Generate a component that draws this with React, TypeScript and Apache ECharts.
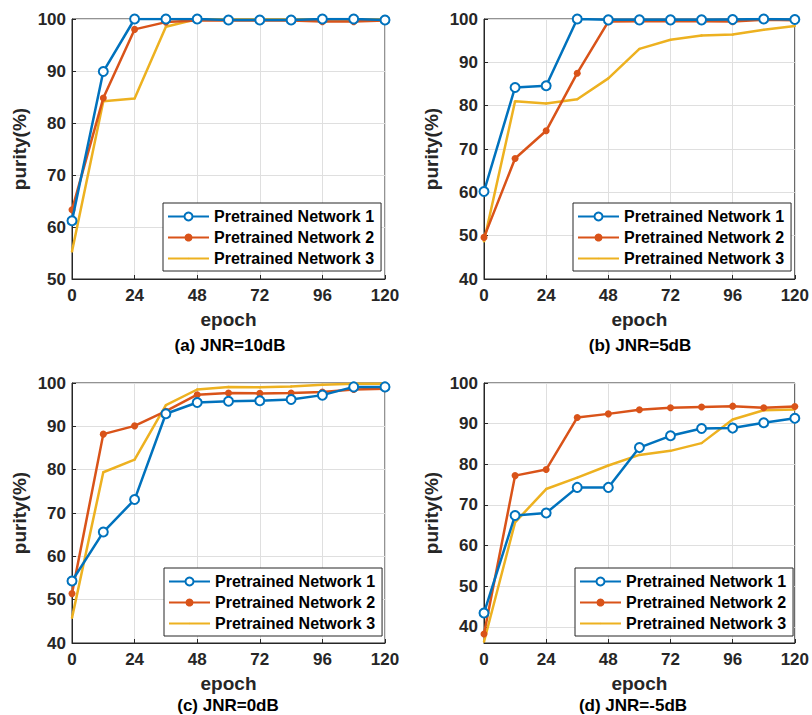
import React, { useEffect, useRef } from "react";
import * as echarts from "echarts";

const epochs = [0, 12, 24, 36, 48, 60, 72, 84, 96, 108, 120];
const seriesNames = ["Pretrained Network 1", "Pretrained Network 2", "Pretrained Network 3"];
const captions = ["(a) JNR=10dB", "(b) JNR=5dB", "(c) JNR=0dB", "(d) JNR=-5dB"];

// (a) JNR=10dB
const a1 = [61.2, 89.9, 100, 100, 100, 99.8, 99.8, 99.8, 100, 100, 99.8];
const a2 = [63.3, 84.8, 98.0, 99.4, 99.7, 99.7, 99.7, 99.7, 99.5, 99.5, 99.7];
const a3 = [55.3, 84.2, 84.7, 98.5, 100, 99.9, 99.9, 99.9, 99.9, 99.9, 99.9];
// (b) JNR=5dB
const b1 = [60.2, 84.2, 84.6, 100, 99.8, 99.8, 99.8, 99.8, 99.9, 100, 99.9];
const b2 = [49.6, 67.8, 74.2, 87.5, 99.4, 99.5, 99.5, 99.5, 99.4, 99.8, 99.7];
const b3 = [48.7, 81.0, 80.5, 81.5, 86.3, 93.1, 95.2, 96.2, 96.4, 97.5, 98.4];
// (c) JNR=0dB
const c1 = [54.3, 65.6, 73.1, 92.9, 95.5, 95.8, 95.9, 96.2, 97.2, 99.1, 99.1];
const c2 = [51.4, 88.2, 90.1, 93.5, 97.3, 97.7, 97.6, 97.7, 97.9, 98.5, 98.7];
const c3 = [45.8, 79.4, 82.3, 94.9, 98.5, 99.1, 99.0, 99.2, 99.6, 99.8, 99.8];
// (d) JNR=-5dB
const d1 = [43.4, 67.4, 68.0, 74.3, 74.3, 84.1, 87.0, 88.8, 88.9, 90.2, 91.3];
const d2 = [38.2, 77.2, 78.7, 91.5, 92.4, 93.4, 93.9, 94.1, 94.3, 93.9, 94.2];
const d3 = [36.3, 65.7, 73.9, 76.7, 79.7, 82.3, 83.3, 85.2, 91.0, 93.3, 93.5];

const yMins = [50, 40, 40, 36];
const yTicksA = [50, 60, 70, 80, 90, 100];
const yTicksB = [40, 50, 60, 70, 80, 90, 100];
const yTicksD = [40, 50, 60, 70, 80, 90, 100];

const panels = [
  [a1, a2, a3],
  [b1, b2, b3],
  [c1, c2, c3],
  [d1, d2, d3],
];
const yTickSets = [yTicksA, yTicksB, yTicksB, yTicksD];

const colors = ["#0072BD", "#D95319", "#EDB120"];
const FONT = "Liberation Sans, Arial, sans-serif";
const TXT = "#262626";
// tiny dot inside a larger invisible bounding box (MATLAB '.' marker look)
const DOT = "path://M-6,-6 M6,6 M-1,0 A1,1 0 1 1 1,0 A1,1 0 1 1 -1,0 Z";

export default function App() {
  const ref = useRef<HTMLDivElement>(null);
  useEffect(() => {
    if (!ref.current) return;
    const chart = echarts.init(ref.current, null, { renderer: "svg" });
    const grids = [
      { left: 72, top: 19, width: 313, height: 260 },
      { left: 484, top: 19, width: 313, height: 260 },
      { left: 72, top: 383, width: 313, height: 260 },
      { left: 484, top: 383, width: 313, height: 260 },
    ];
    const legendPos = [
      { left: 163, top: 203 },
      { left: 573, top: 203 },
      { left: 164, top: 568 },
      { left: 575, top: 568 },
    ];
    const captionPos = [
      { x: 230, y: 345 },
      { x: 640, y: 345 },
      { x: 228, y: 705 },
      { x: 633, y: 705 },
    ];

    const xAxis = grids.map((_, i) => ({
      type: "value",
      gridIndex: i,
      min: 0,
      max: 120,
      interval: 24,
      name: "epoch",
      nameLocation: "middle",
      nameGap: 31,
      nameTextStyle: { fontFamily: FONT, fontWeight: "bold", fontSize: 19, color: TXT },
      axisLine: { show: true, lineStyle: { color: TXT, width: 1 } },
      axisTick: { show: true, inside: true, length: 4, lineStyle: { color: TXT } },
      axisLabel: { fontFamily: FONT, fontWeight: "bold", fontSize: 17, color: TXT, margin: 8 },
      splitLine: { show: true, lineStyle: { color: "#dfdfdf", width: 1 } },
    }));

    const yAxis = grids.map((_, i) => ({
      type: "value",
      gridIndex: i,
      min: yMins[i],
      max: 100,
      name: "purity(%)",
      nameLocation: "middle",
      nameGap: 43,
      nameTextStyle: { fontFamily: FONT, fontWeight: "bold", fontSize: 19, color: TXT },
      axisLine: { show: true, lineStyle: { color: TXT, width: 1 } },
      axisTick: { show: true, inside: true, length: 4, lineStyle: { color: TXT }, customValues: yTickSets[i] },
      axisLabel: {
        fontFamily: FONT,
        fontWeight: "bold",
        fontSize: 17,
        color: TXT,
        margin: 6,
        customValues: yTickSets[i],
      },
      splitLine: { show: true, lineStyle: { color: "#dfdfdf", width: 1 } },
    }));

    const series: any[] = [];
    panels.forEach((p, gi) => {
      p.forEach((vals, si) => {
        series.push({
          type: "line",
          name: seriesNames[si],
          xAxisIndex: gi,
          yAxisIndex: gi,
          data: epochs.map((e, k) => [e, vals[k]]),
          symbol: si === 0 ? "emptyCircle" : si === 1 ? "circle" : DOT,
          symbolSize: si === 0 ? 9 : si === 1 ? 7 : 14,
          showSymbol: true,
          lineStyle: { color: colors[si], width: 2.5 },
          itemStyle: { color: colors[si], borderColor: colors[si], borderWidth: si === 0 ? 2 : 0 },
          z: 3 - si + 2,
        });
      });
    });

    const legend = legendPos.map((pos) => ({
      ...pos,
      orient: "vertical",
      data: seriesNames,
      itemWidth: 41,
      itemHeight: 10,
      itemGap: 2,
      padding: [4, 7, 3, 4],
      backgroundColor: "#ffffff",
      borderColor: TXT,
      borderWidth: 1,
      selectedMode: false,
      textStyle: { fontFamily: FONT, fontWeight: "bold", fontSize: 16, color: "#000", lineHeight: 19 },
    }));

    const graphic = captions.map((c, i) => ({
      type: "text",
      x: captionPos[i].x,
      y: captionPos[i].y,
      style: {
        text: c,
        fontFamily: FONT,
        fontWeight: "bold",
        fontSize: 17,
        fill: "#000",
        textAlign: "center",
        textVerticalAlign: "middle",
      },
    }));

    chart.setOption({
      animation: false,
      backgroundColor: "#ffffff",
      grid: grids.map((g) => ({ ...g, show: true, borderColor: TXT, borderWidth: 1, backgroundColor: "transparent" })),
      xAxis,
      yAxis,
      series,
      legend,
      graphic,
    });
    return () => chart.dispose();
  }, []);
  return (
    <div
      ref={ref}
      style={{ position: "absolute", left: 0, top: 0, width: 812, height: 715, background: "#fff" }}
    />
  );
}
